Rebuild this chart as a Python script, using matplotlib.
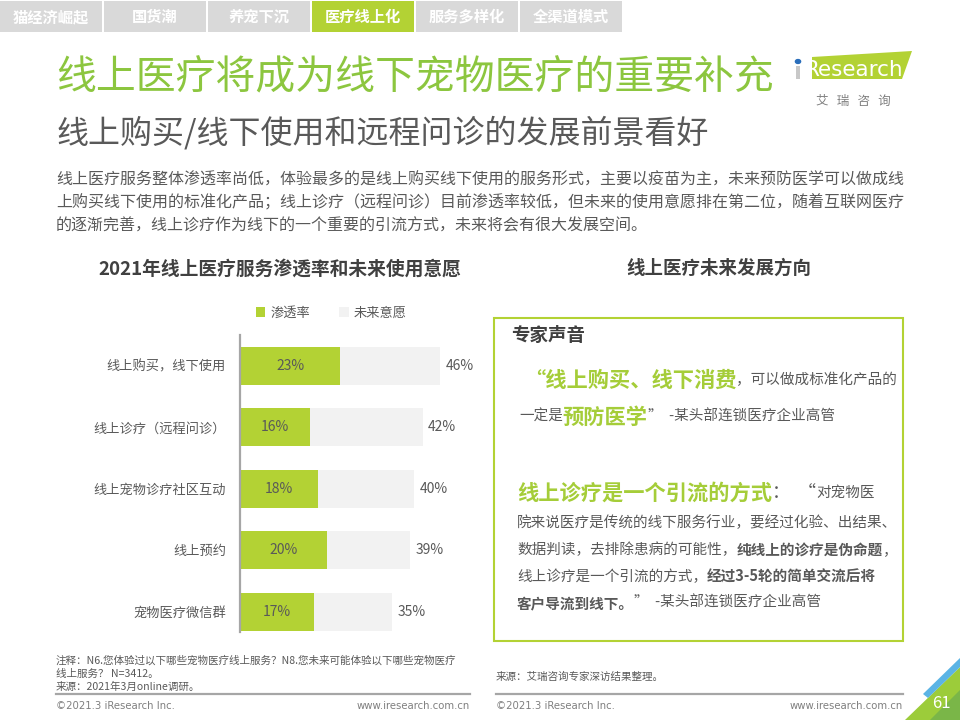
import matplotlib
matplotlib.use("Agg")
import matplotlib.pyplot as plt
from matplotlib.patches import Rectangle, Polygon
import numpy as np

plt.rcParams['font.family'] = ['Noto Sans CJK SC', 'DejaVu Sans']

W, H = 960, 720
VERDE = '#b3d234'
VERDE_TIT = '#8cc63f'
CINZA_TXT = '#595959'
CINZA_BAR = '#f2f2f2'

abas = ['猫经济崛起', '国货潮', '养宠下沉', '医疗线上化', '服务多样化', '全渠道模式']
aba_ativa = 3

categorias = ['线上购买，线下使用', '线上诊疗（远程问诊）', '线上宠物诊疗社区互动', '线上预约', '宠物医疗微信群']
penetracao = [23, 16, 18, 20, 17]
intencao = [46, 42, 40, 39, 35]

texto_corpo = ['线上医疗服务整体渗透率尚低，体验最多的是线上购买线下使用的服务形式，主要以疫苗为主，未来预防医学可以做成线',
               '上购买线下使用的标准化产品；线上诊疗（远程问诊）目前渗透率较低，但未来的使用意愿排在第二位，随着互联网医疗',
               '的逐渐完善，线上诊疗作为线下的一个重要的引流方式，未来将会有很大发展空间。']

notas = ['注释：N6.您体验过以下哪些宠物医疗线上服务？N8.您未来可能体验以下哪些宠物医疗',
         '线上服务？ N=3412。',
         '来源：2021年3月online调研。']

fig = plt.figure(figsize=(W / 100, H / 100), dpi=100)
fig.patch.set_facecolor('white')
rend = fig.canvas.get_renderer()


def fx(x):
    return x / W


def fy(y):
    return 1 - y / H


def texto(x, y, s, **kw):
    kw.setdefault('va', 'center')
    kw.setdefault('color', CINZA_TXT)
    return fig.text(fx(x), fy(y), s, **kw)


def trechos(x, y, partes):
    # desenha pedaços de texto em sequência, um depois do outro
    for s, kw in partes:
        t = texto(x, y, s, ha='left', **kw)
        x += t.get_window_extent(renderer=rend).width
    return x


def retangulo(x0, y0, x1, y1, **kw):
    fig.patches.append(Rectangle((fx(x0), fy(y1)), (x1 - x0) / W, (y1 - y0) / H,
                                 transform=fig.transFigure, **kw))


# abas do topo
for i, nome in enumerate(abas):
    x0 = 104 * i
    cor = VERDE if i == aba_ativa else '#d9d9d9'
    retangulo(x0, 1, x0 + 102, 32, facecolor=cor, edgecolor='none')
    texto(x0 + 51, 17, nome, ha='center', fontsize=11, fontweight='bold', color='white')

# titulos
texto(56, 78, '线上医疗将成为线下宠物医疗的重要补充', fontsize=28.7, color=VERDE_TIT)
texto(56, 133, '线上购买/线下使用和远程问诊的发展前景看好', fontsize=23, color=CINZA_TXT)

for i, linha in enumerate(texto_corpo):
    texto(56, 180 + 23 * i, linha, fontsize=11.5)

# logo
fig.patches.append(Polygon([(fx(812), fy(57)), (fx(912), fy(51)), (fx(902), fy(79)), (fx(812), fy(79))],
                           closed=True, transform=fig.transFigure, facecolor=VERDE, edgecolor='none'))
retangulo(796, 66, 800, 79, facecolor='#c8c8c8', edgecolor='none')
fig.patches.append(plt.Circle((fx(798), fy(61.5)), 2.6 / W, transform=fig.transFigure, color='#2a6ebb'))
texto(805, 70, 'Research', fontsize=15.5, color='white', family='DejaVu Sans')
texto(853, 101, '艾   瑞   咨   询', ha='center', fontsize=9, color='#7f7f7f')

# titulos dos paineis
texto(280, 269, '2021年线上医疗服务渗透率和未来使用意愿', ha='center', fontsize=13.5, fontweight='bold', color='#404040')
texto(719, 268, '线上医疗未来发展方向', ha='center', fontsize=13.3, fontweight='bold', color='#404040')

# grafico de barras
ax = fig.add_axes([fx(240), fy(642.5), 240 / W, 307.5 / H])
pos = np.arange(len(categorias))
ax.barh(pos, intencao, height=0.62, color=CINZA_BAR, label='未来意愿', zorder=1)
ax.barh(pos, penetracao, height=0.62, color=VERDE, label='渗透率', zorder=2)
for p, v1, v2 in zip(pos, penetracao, intencao):
    ax.text(v1 / 2, p, f'{v1}%', ha='center', va='center', fontsize=10, color=CINZA_TXT, zorder=3)
    ax.annotate(f'{v2}%', (v2, p), xytext=(4, 0), textcoords='offset points',
                ha='left', va='center', fontsize=10, color=CINZA_TXT)
ax.set_xlim(0, 240 / 4.348)
ax.set_ylim(4.5, -0.5)
ax.set_yticks(pos)
ax.set_yticklabels(categorias, fontsize=9.5, color=CINZA_TXT)
ax.tick_params(axis='y', length=0, pad=10)
ax.set_xticks([])
for lado in ['top', 'right', 'bottom']:
    ax.spines[lado].set_visible(False)
ax.spines['left'].set_color('#a6a6a6')
ax.spines['left'].set_linewidth(1.6)
ax.spines['left'].set_bounds(4.33, -0.5)
ax.patch.set_alpha(0)
h, l = ax.get_legend_handles_labels()
ax.legend(h[::-1], l[::-1], ncol=2, frameon=False, fontsize=9.5, labelcolor=CINZA_TXT,
          handlelength=0.7, handleheight=0.7, handletextpad=0.4, columnspacing=2.2,
          loc='center left', bbox_to_anchor=(fx(256), fy(313)), bbox_transform=fig.transFigure,
          borderaxespad=0, borderpad=0)

# caixa da direita
retangulo(494, 318, 903, 641, facecolor='none', edgecolor=VERDE, linewidth=1.5)
texto(511, 335, '专家声音', fontsize=13.3, fontweight='bold', color='#404040')
VD = dict(fontsize=15.3, fontweight='bold', color='#a5cd39')
CZ = dict(fontsize=10.5, color=CINZA_TXT, style='italic')
CZB = dict(fontsize=10.5, color=CINZA_TXT, fontweight='bold', style='italic')
trechos(524, 380, [('“线上购买、线下消费', VD), ('，可以做成标准化产品的', CZ)])
trechos(519, 417, [('一定是', CZ), ('预防医学', VD), ('”  -某头部连锁医疗企业高管', CZ)])
trechos(517, 493, [('线上诊疗是一个引流的方式', VD), ('：  “', dict(fontsize=13, color=CINZA_TXT)),
                   ('对宠物医', CZ)])
trechos(517, 523, [('院来说医疗是传统的线下服务行业，要经过化验、出结果、', CZ)])
trechos(517, 550, [('数据判读，去排除患病的可能性，', CZ), ('纯线上的诊疗是伪命题', CZB), ('，', CZ)])
trechos(517, 577, [('线上诊疗是一个引流的方式，', CZ), ('经过3-5轮的简单交流后将', CZB)])
trechos(517, 603, [('客户导流到线下。', CZB), ('”  -某头部连锁医疗企业高管', CZ)])

# rodape
for i, linha in enumerate(notas):
    texto(56, 660 + 13.5 * i, linha, fontsize=7.6)
texto(496, 677, '来源：艾瑞咨询专家深访结果整理。', fontsize=7.6)
for x0, x1 in [(56, 470), (496, 903)]:
    fig.add_artist(plt.Line2D([fx(x0), fx(x1)], [fy(694), fy(694)], transform=fig.transFigure,
                              color='#a6a6a6', linewidth=1.6))
    texto(x0, 706, '©2021.3 iResearch Inc.', fontsize=7.3, color='#7f7f7f', family=['Liberation Sans Narrow', 'DejaVu Sans'])
    texto(x1, 706, 'www.iresearch.com.cn', ha='right', fontsize=7.3, color='#7f7f7f', family=['Liberation Sans Narrow', 'DejaVu Sans'])

# canto da pagina
fig.patches.append(Polygon([(fx(905), fy(720)), (fx(960), fy(720)), (fx(960), fy(667))], closed=True,
                           transform=fig.transFigure, facecolor='#9ccc3a', edgecolor='none'))
fig.patches.append(Polygon([(fx(930), fy(720)), (fx(960), fy(720)), (fx(960), fy(690))], closed=True,
                           transform=fig.transFigure, facecolor='#7ab648', edgecolor='none'))
fig.patches.append(Polygon([(fx(923), fy(694)), (fx(960), fy(658)), (fx(960), fy(667)), (fx(928), fy(698))],
                           closed=True, transform=fig.transFigure, facecolor='#5bb4e5', edgecolor='none'))
texto(941, 704, '61', ha='center', fontsize=12, color='white')

fig.savefig('out.png', dpi=100)
